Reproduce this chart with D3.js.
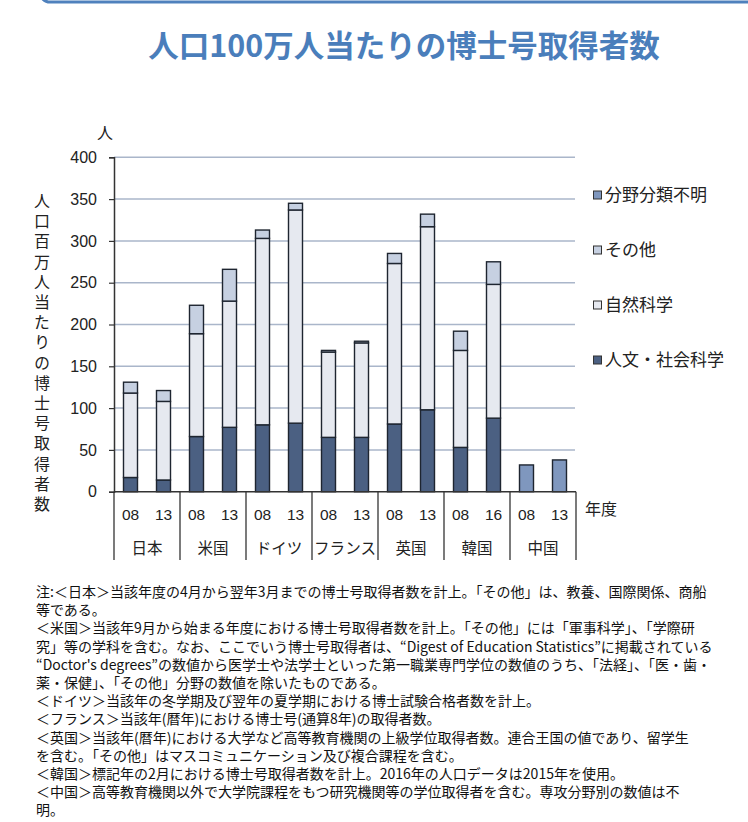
<!DOCTYPE html>
<html><head><meta charset="utf-8">
<script src="https://cdn.jsdelivr.net/npm/d3@7"></script>
<style>body{margin:0;background:#fff}svg{display:block}</style>
</head><body>
<script>
const countries = ["日本","米国","ドイツ","フランス","英国","韓国","中国"];
const years = [["08","13"],["08","13"],["08","13"],["08","13"],["08","13"],["08","16"],["08","13"]];
const humanities = [[17,14],[66,77],[80,82],[65,65],[81,98],[53,88],[0,0]];
const science    = [[101,94],[123,151],[223,255],[102,113],[192,219],[116,160],[0,0]];
const other      = [[13,13],[34,38],[10,8],[2,2],[12,15],[23,27],[0,0]];
const unknown    = [[0,0],[0,0],[0,0],[0,0],[0,0],[0,0],[32,38]];
const seriesNames = ["人文・社会科学","自然科学","その他","分野分類不明"];
const seriesColors = ["#4b6082","#e6e9f0","#c6d0e1","#7f97be"];
const yTicks = [0,50,100,150,200,250,300,350,400];
const notes = [
"注:＜日本＞当該年度の4月から翌年3月までの博士号取得者数を計上。「その他」は、教養、国際関係、商船",
"等である。",
"＜米国＞当該年9月から始まる年度における博士号取得者数を計上。「その他」には「軍事科学」、「学際研",
"究」等の学科を含む。なお、ここでいう博士号取得者は、“Digest of Education Statistics”に掲載されている",
"“Doctor's degrees”の数値から医学士や法学士といった第一職業専門学位の数値のうち、「法経」、「医・歯・",
"薬・保健」、「その他」分野の数値を除いたものである。",
"＜ドイツ＞当該年の冬学期及び翌年の夏学期における博士試験合格者数を計上。",
"＜フランス＞当該年(暦年)における博士号(通算8年)の取得者数。",
"＜英国＞当該年(暦年)における大学など高等教育機関の上級学位取得者数。連合王国の値であり、留学生",
"を含む。「その他」はマスコミュニケーション及び複合課程を含む。",
"＜韓国＞標記年の2月における博士号取得者数を計上。2016年の人口データは2015年を使用。",
"＜中国＞高等教育機関以外で大学院課程をもつ研究機関等の学位取得者を含む。専攻分野別の数値は不",
"明。"
];

const W = 748, H = 822;
const svg = d3.select("body").append("svg").attr("width", W).attr("height", H);
const jp = "'Noto Sans CJK JP','Noto Sans',sans-serif";
const ar = "'Liberation Sans',Arial,sans-serif";

// top frame edge
svg.append("rect").attr("x", 40).attr("y", -30).attr("width", 730).attr("height", 32)
  .attr("rx", 10).attr("fill", "none").attr("stroke", "#4f81bd").attr("stroke-width", 3);

// title
svg.append("text").attr("x", 404).attr("y", 57).attr("text-anchor", "middle")
  .attr("font-family", jp).attr("font-weight", "bold").attr("font-size", 30.5)
  .attr("fill", "#4a7ebb").text("人口100万人当たりの博士号取得者数");

const x0 = d3.scaleBand().domain(countries).range([114, 576]).paddingInner(0).paddingOuter(0);
const x1 = d3.scaleBand().domain([0,1]).range([0, x0.bandwidth()]);
const y = d3.scaleLinear().domain([0, 400]).range([491.7, 157.3]);
const barW = 14;

// gridlines
svg.append("g").selectAll("line").data(yTicks.filter(d => d > 0)).join("line")
  .attr("x1", 114).attr("x2", 575).attr("y1", d => y(d)).attr("y2", d => y(d))
  .attr("stroke", "#aab6ca").attr("stroke-width", 1.5);

// y axis
const yAxis = d3.axisLeft(y).tickValues(yTicks).tickSize(5).tickPadding(12);
const gy = svg.append("g").attr("transform", "translate(114,0)").call(yAxis);
gy.select(".domain").attr("stroke", "#333").attr("stroke-width", 1.5);
gy.selectAll(".tick line").attr("stroke", "#333").attr("stroke-width", 1.2);
gy.selectAll(".tick text").attr("font-family", ar).attr("font-size", 16).attr("fill", "#222");

// unit label
svg.append("text").attr("x", 105).attr("y", 139).attr("text-anchor", "middle")
  .attr("font-family", jp).attr("font-size", 16).attr("fill", "#222").text("人");

// vertical y title (single text, vertical writing mode)
svg.append("text").attr("x", 42).attr("y", 193)
  .style("writing-mode", "vertical-rl").style("text-orientation", "upright")
  .style("letter-spacing", "4.2px")
  .attr("font-family", jp).attr("font-size", 16).attr("fill", "#222")
  .text("人口百万人当たりの博士号取得者数");

// stacked bars
const seriesData = [humanities, science, other, unknown];
const bars = [];
countries.forEach((c, ci) => {
  [0,1].forEach(yi => {
    let base = 0;
    seriesData.forEach((s, si) => {
      const v = s[ci][yi];
      if (v > 0) bars.push({c, yi, si, y0: base, y1: base + v});
      base += v;
    });
  });
});
svg.append("g").selectAll("rect").data(bars).join("rect")
  .attr("x", d => x0(d.c) + x1(d.yi) + x1.bandwidth() / 2 - barW / 2)
  .attr("width", barW)
  .attr("y", d => y(d.y1))
  .attr("height", d => y(d.y0) - y(d.y1))
  .attr("fill", d => seriesColors[d.si])
  .attr("stroke", "#1e2530").attr("stroke-width", 1.4);

// x axis baseline and separators
svg.append("line").attr("x1", 114).attr("x2", 576).attr("y1", y(0)).attr("y2", y(0))
  .attr("stroke", "#333").attr("stroke-width", 1.5);
const seps = countries.map(c => x0(c)).concat([x0.range()[1]]);
svg.append("g").selectAll("line").data(seps).join("line")
  .attr("x1", d => d).attr("x2", d => d).attr("y1", y(0)).attr("y2", 560)
  .attr("stroke", "#333").attr("stroke-width", 1.3);

// year labels
const yearLabels = [];
countries.forEach((c, ci) => [0,1].forEach(yi => yearLabels.push({c, yi, t: years[ci][yi]})));
svg.append("g").selectAll("text").data(yearLabels).join("text")
  .attr("x", d => x0(d.c) + x1(d.yi) + x1.bandwidth() / 2)
  .attr("y", 520).attr("text-anchor", "middle")
  .attr("font-family", ar).attr("font-size", 15.5).attr("fill", "#222").text(d => d.t);

// country labels
svg.append("g").selectAll("text").data(countries).join("text")
  .attr("x", d => x0(d) + x0.bandwidth() / 2).attr("y", 554).attr("text-anchor", "middle")
  .attr("font-family", jp).attr("font-size", 15.5).attr("fill", "#222")
  .attr("textLength", d => d.length >= 4 ? 62 : null)
  .attr("lengthAdjust", "spacingAndGlyphs")
  .text(d => d);

svg.append("text").attr("x", 585).attr("y", 515).attr("font-family", jp)
  .attr("font-size", 16).attr("fill", "#222").text("年度");

// legend (top to bottom: reverse order)
const legendOrder = [3,2,1,0];
const lg = svg.append("g").selectAll("g").data(legendOrder).join("g")
  .attr("transform", (d, i) => `translate(593,${195 + i * 55})`);
lg.append("rect").attr("x", 0.5).attr("y", -4).attr("width", 8).attr("height", 8)
  .attr("fill", d => seriesColors[d]).attr("stroke", "#333").attr("stroke-width", 1);
lg.append("text").attr("x", 12).attr("y", 6).attr("font-family", jp)
  .attr("font-size", 17).attr("fill", "#222").text(d => seriesNames[d]);

// notes
svg.append("g").selectAll("text").data(notes).join("text")
  .attr("x", 36).attr("y", (d, i) => 597 + i * 18.2)
  .attr("font-family", jp).attr("font-size", 14).attr("fill", "#111").text(d => d);
</script>
</body></html>
